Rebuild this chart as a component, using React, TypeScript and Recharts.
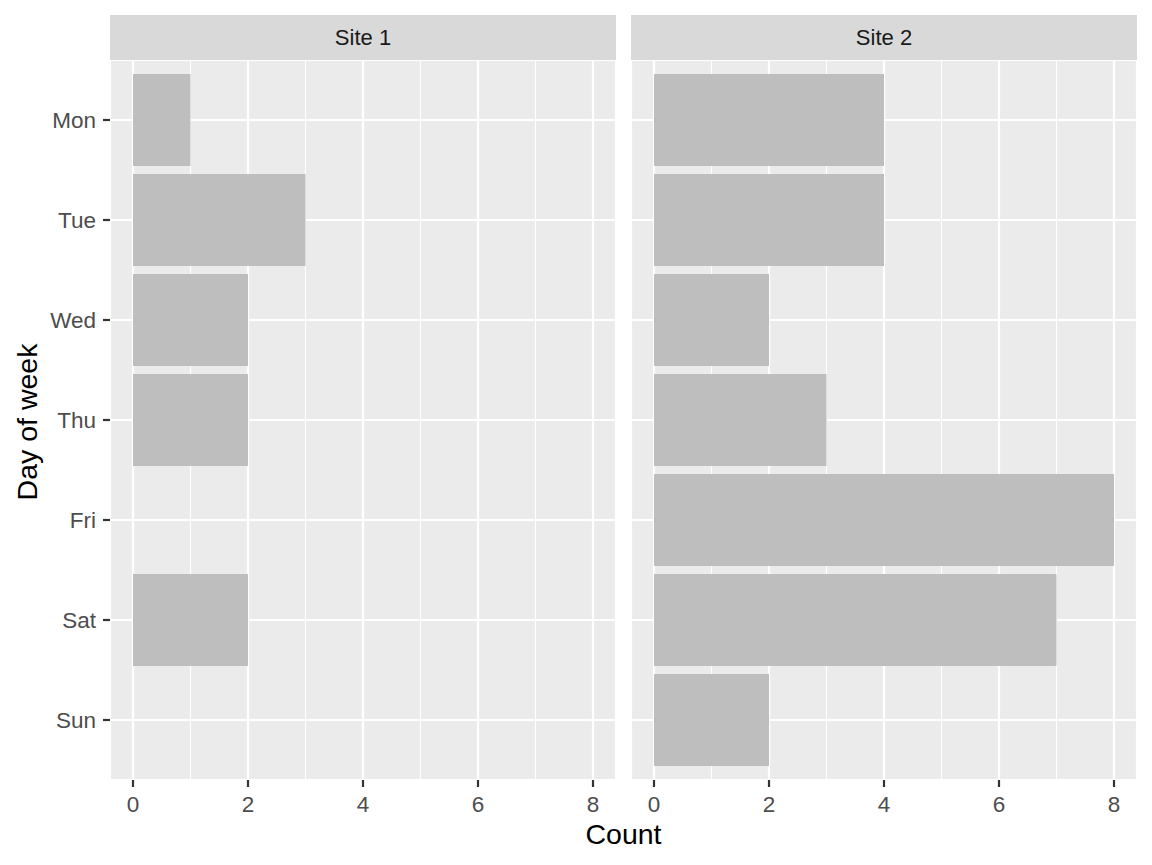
import React from 'react';
import { Bar, BarChart, CartesianGrid, XAxis, YAxis } from 'recharts';

const days = ['Mon', 'Tue', 'Wed', 'Thu', 'Fri', 'Sat', 'Sun'];
const site1Counts = [1, 3, 2, 2, 0, 2, 0];
const site2Counts = [4, 4, 2, 3, 8, 7, 2];
const siteLabels = ['Site 1', 'Site 2'];
const majorTicks = [0, 2, 4, 6, 8];
const minorTicks = [1, 3, 5, 7];

const site1 = days.map((day, i) => ({ day, count: site1Counts[i] }));
const site2 = days.map((day, i) => ({ day, count: site2Counts[i] }));

const FONT = '"Liberation Sans", Arial, Helvetica, sans-serif';
const PANEL_BG = '#EBEBEB';
const BAR_FILL = '#BEBEBE';
const TICK_TEXT = '#4D4D4D';
const TICK_LINE = '#333333';
const TICK_FONT = 22.5;

const TOP = 60;
const PANEL_BOTTOM = 780;
const HEIGHT = 865;

function Panel({ data, showY, width }: { data: any[]; showY: boolean; width: number }) {
  return (
    <BarChart
      width={width}
      height={HEIGHT}
      data={data}
      layout="vertical"
      barCategoryGap={4}
      margin={{ top: TOP, right: 0, bottom: HEIGHT - PANEL_BOTTOM - 40, left: 0 }}
    >
      {/* minor grid first so the major lines sit on top */}
      <CartesianGrid
        xAxisId="minor"
        horizontal={false}
        vertical
        stroke="#FFFFFF"
        strokeWidth={1.1}
        fill={PANEL_BG}
        fillOpacity={1}
      />
      <CartesianGrid xAxisId="main" stroke="#FFFFFF" strokeWidth={2.2} />
      <XAxis
        xAxisId="minor"
        type="number"
        domain={[-0.4, 8.4]}
        ticks={minorTicks}
        allowDataOverflow
        hide
      />
      <XAxis
        xAxisId="main"
        type="number"
        domain={[-0.4, 8.4]}
        ticks={majorTicks}
        allowDataOverflow
        height={40}
        axisLine={false}
        tickSize={7}
        tickMargin={9}
        tickLine={{ stroke: TICK_LINE, strokeWidth: 2.2 }}
        tick={{ fill: TICK_TEXT, fontSize: TICK_FONT, fontFamily: FONT }}
      />
      <YAxis
        type="category"
        dataKey="day"
        width={showY ? 110 : 0}
        hide={!showY}
        padding={{ top: 10, bottom: 10 }}
        axisLine={false}
        tickSize={7}
        tickMargin={7}
        tickLine={{ stroke: TICK_LINE, strokeWidth: 2.2 }}
        tick={{ fill: TICK_TEXT, fontSize: TICK_FONT, fontFamily: FONT }}
      />
      <Bar xAxisId="main" dataKey="count" fill={BAR_FILL} isAnimationActive={false} />
    </BarChart>
  );
}

export default function App() {
  const strips = [
    { left: 110, label: siteLabels[0] },
    { left: 631, label: siteLabels[1] },
  ];
  return (
    <div
      style={{
        position: 'absolute',
        left: 0,
        top: 0,
        width: 1152,
        height: HEIGHT,
        background: '#FFFFFF',
        fontFamily: FONT,
        overflow: 'hidden',
      }}
    >
      <div style={{ position: 'absolute', left: 0, top: 0 }}>
        <Panel data={site1} showY width={616} />
      </div>
      <div style={{ position: 'absolute', left: 631, top: 0 }}>
        <Panel data={site2} showY={false} width={506} />
      </div>
      {strips.map((s) => (
        <div
          key={s.label}
          style={{
            position: 'absolute',
            left: s.left,
            top: 15,
            width: 506,
            height: 45,
            background: '#D9D9D9',
            color: '#1A1A1A',
            fontSize: 22,
            lineHeight: '45px',
            textAlign: 'center',
          }}
        >
          {s.label}
        </div>
      ))}
      <svg
        width={1152}
        height={HEIGHT}
        style={{ position: 'absolute', left: 0, top: 0, pointerEvents: 'none' }}
      >
        <text x={623.5} y={844} textAnchor="middle" fontSize={28.5} fontFamily={FONT} fill="#000000">
          Count
        </text>
        <text
          x={0}
          y={0}
          transform="translate(37, 422) rotate(-90)"
          textAnchor="middle"
          fontSize={28.5}
          fontFamily={FONT}
          fill="#000000"
        >
          Day of week
        </text>
      </svg>
    </div>
  );
}
